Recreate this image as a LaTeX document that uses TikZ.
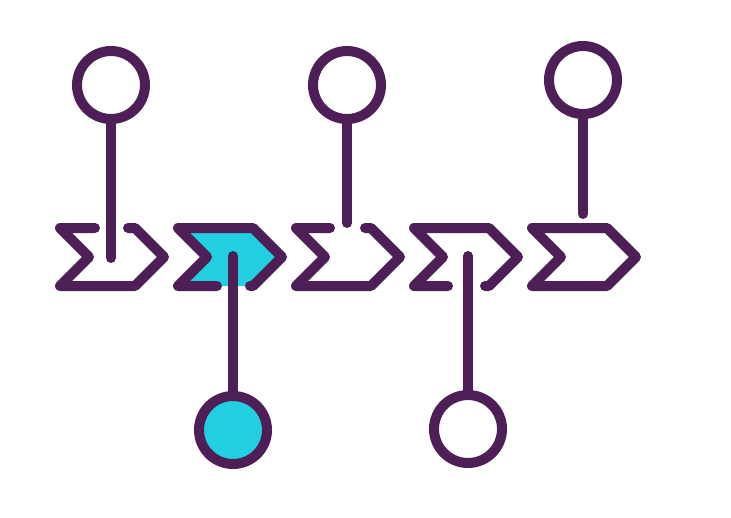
\documentclass[tikz,border=0pt]{standalone}
\usetikzlibrary{calc}
\definecolor{plum}{HTML}{4E1E56}
\definecolor{aqua}{HTML}{22CFE0}
\tikzset{
  stroke/.style={draw=plum, line width=10pt, line cap=round, line join=round},
  ring/.style={circle, draw=plum, line width=10pt, minimum size=68pt, inner sep=0pt, fill=white},
  stick/.style={stroke}
}
\begin{document}
\begin{tikzpicture}[x=1pt,y=-1pt]
\useasboundingbox (0,0) rectangle (731,517);
% chevron 2 fill
\fill[aqua] (178,228) -- (253,228) -- (282,257) -- (253,286) -- (178,286) -- (207,257) -- cycle;
% chevron 1 (gap on top)
\draw[stroke] (128,228) -- (135,228) -- (164,257) -- (135,286) -- (60,286) -- (89,257) -- (60,228) -- (95,228);
% chevron 2 (gap at bottom)
\draw[stroke] (217,286) -- (178,286) -- (207,257) -- (178,228) -- (253,228) -- (282,257) -- (253,286) -- (250,286);
% chevron 3 (gap on top)
\draw[stroke] (365,228) -- (371,228) -- (400,257) -- (371,286) -- (296,286) -- (325,257) -- (296,228) -- (330,228);
% chevron 4 (gap at bottom)
\draw[stroke] (448,286) -- (414,286) -- (443,257) -- (414,228) -- (489,228) -- (518,257) -- (489,286) -- (485,286);
% chevron 5
\draw[stroke] (532,228) -- (607,228) -- (636,257) -- (607,286) -- (532,286) -- (561,257) -- cycle;
% circles
\node[ring] (c1) at (111,85) {};
\node[ring, fill=aqua] (c2) at (233,430) {};
\node[ring] (c3) at (347,85) {};
\node[ring] (c4) at (468,429) {};
\node[ring] (c5) at (583,80) {};
% stick ends
\coordinate (e1) at (111,258);
\coordinate (e2) at (233,256);
\coordinate (e3) at (347,223);
\coordinate (e4) at (468,256);
\coordinate (e5) at (583,214);
\draw[stick] (c1.south) -- (e1);
\draw[stick] (c2.north) -- (e2);
\draw[stick] (c3.south) -- (e3);
\draw[stick] (c4.north) -- (e4);
\draw[stick] (c5.south) -- (e5);
\end{tikzpicture}
\end{document}
